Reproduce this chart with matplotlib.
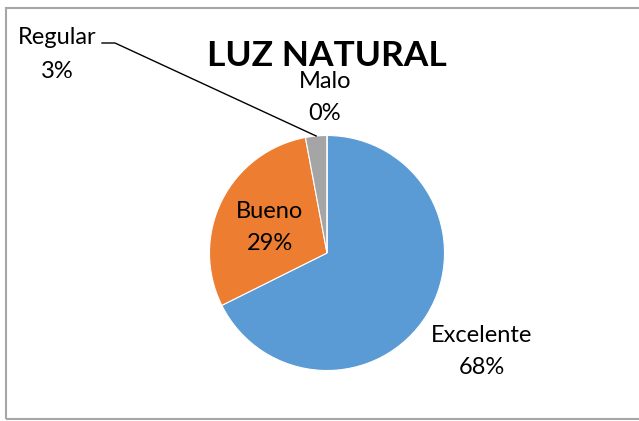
import matplotlib.pyplot as plt
import numpy as np
from matplotlib.patches import Rectangle

categorias = ['Excelente', 'Bueno', 'Regular', 'Malo']
valores = [23, 10, 1, 0]
colores = ['#5B9BD5', '#ED7D31', '#A5A5A5', '#FFC000']
titulo = 'LUZ NATURAL'

W, H = 639, 421
fig = plt.figure(figsize=(W / 100, H / 100), dpi=100)
ax = fig.add_axes([0, 0, 1, 1])

cx, cy, r = 327, H - 253, 117.5
wedges, _ = ax.pie(valores, colors=colores, startangle=90, counterclock=False,
                   center=(cx, cy), radius=r, frame=True,
                   wedgeprops=dict(edgecolor='white', linewidth=0.8))
ax.set_xlim(0, W)
ax.set_ylim(0, H)
ax.set_aspect('equal')
ax.axis('off')

# marco del grafico
ax.add_patch(Rectangle((6, H - 419), 640, 411, fill=False, edgecolor='#A6A6A6',
                       linewidth=1.5, clip_on=False))

fuente = 'Lato'
total = sum(valores)
pct = [f'{round(v / total * 100)}%' for v in valores]

ax.text(326.5, H - 56, titulo, ha='center', va='center', fontsize=25.5,
        fontweight='bold', family=fuente)

# posiciones de etiquetas (x, y nombre, y porcentaje) en pixeles de imagen
pos = {'Excelente': (482, 335, 367), 'Bueno': (270, 212, 243),
       'Regular': (57, 38, 71), 'Malo': (325, 82, 113)}
for c, p in zip(categorias, pct):
    x, y1, y2 = pos[c]
    ax.text(x, H - y1, c, ha='center', va='center', fontsize=17, family=fuente)
    ax.text(x, H - y2, p, ha='center', va='center', fontsize=17, family=fuente)

# linea guia de Regular
w = wedges[2]
ang = np.deg2rad((w.theta1 + w.theta2) / 2)
ex, ey = cx + r * np.cos(ang), cy + r * np.sin(ang)
ax.plot([102, 115, ex], [H - 43, H - 43, ey], color='black', linewidth=1)

fig.savefig('out.png', dpi=100)
